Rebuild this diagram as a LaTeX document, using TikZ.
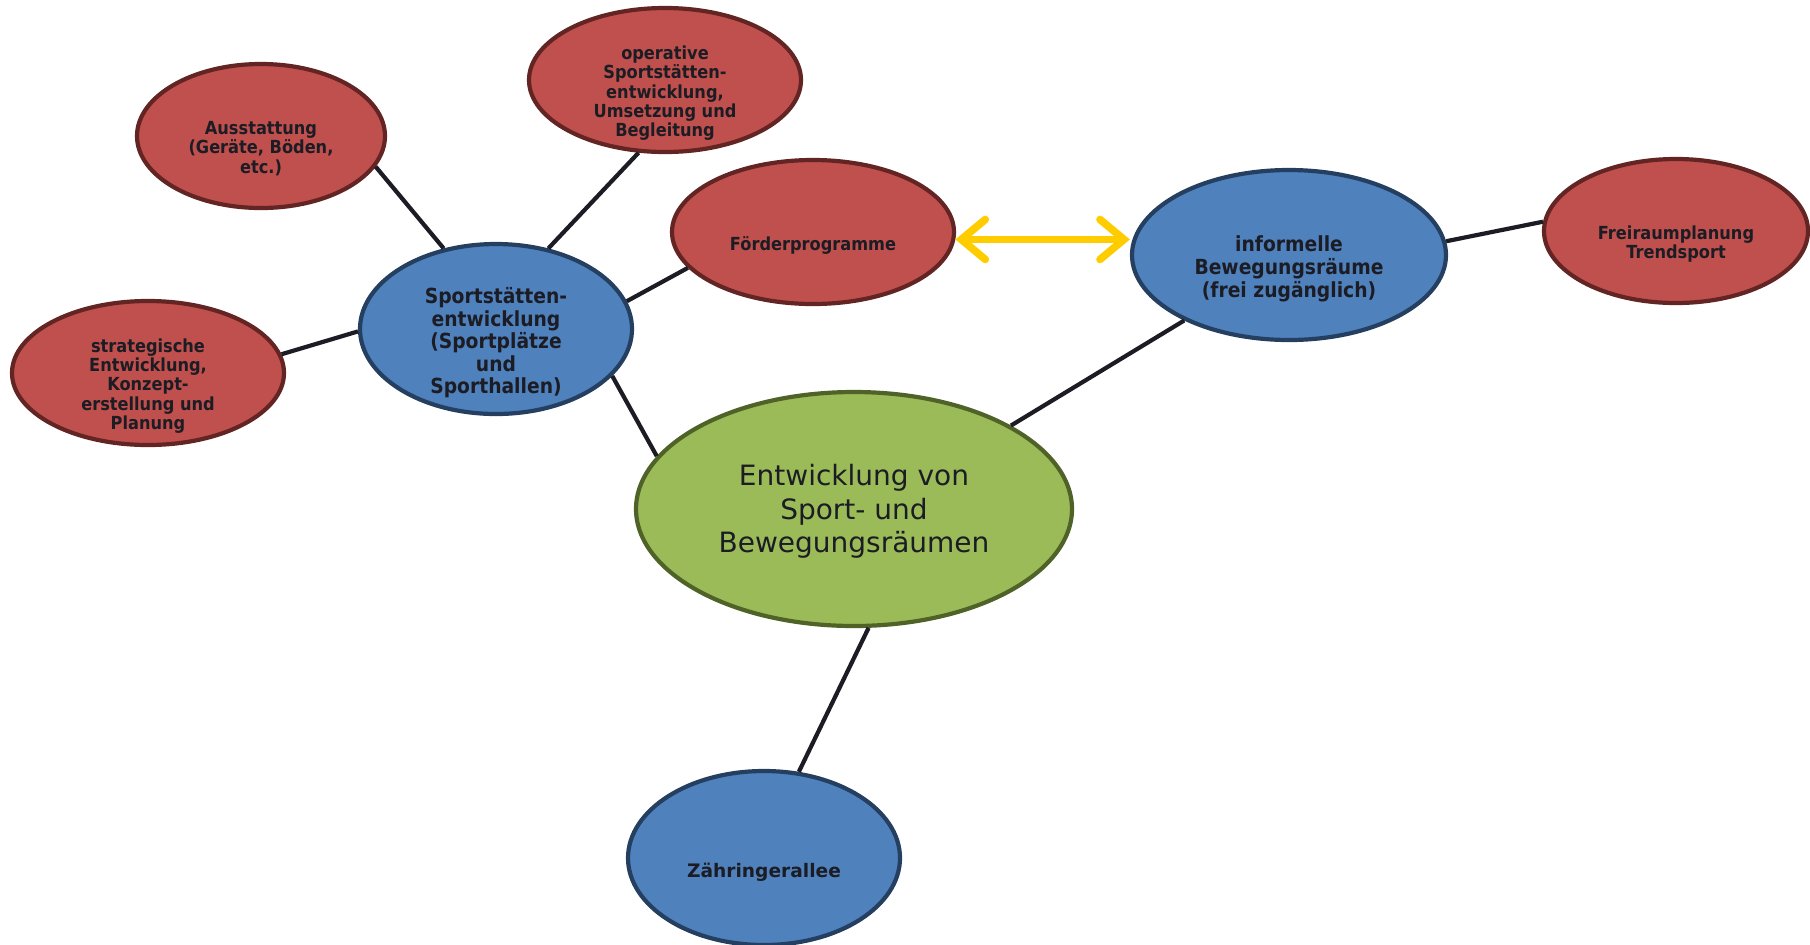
\documentclass[tikz,border=0pt]{standalone}
\usepackage{fontspec}
\setmainfont{DejaVu Sans}
\newfontfamily\narrowfont{DejaVu Sans}[FakeStretch=0.9]
\usetikzlibrary{shapes, arrows.meta}
\definecolor{redfill}{HTML}{C0504D}
\definecolor{redline}{HTML}{632523}
\definecolor{bluefill}{HTML}{4F81BD}
\definecolor{blueline}{HTML}{243F60}
\definecolor{greenfill}{HTML}{9BBB59}
\definecolor{greenline}{HTML}{4F6228}
\definecolor{ink}{HTML}{1C1C24}
\definecolor{gold}{HTML}{FFCC00}
\newcommand{\low}[2][-7pt]{\raisebox{#1}[\height][\depth]{\begin{tabular}{@{}c@{}}#2\end{tabular}}}

\begin{document}
\begin{tikzpicture}[x=0.5pt,y=-0.5pt,
  bubble/.style={ellipse,draw,line width=2.1pt,inner sep=0pt,text=ink,align=center},
  redball/.style={bubble,fill=redfill,draw=redline,font=\narrowfont\bfseries\fontsize{9}{9.5}\selectfont},
  blueball/.style={bubble,fill=bluefill,draw=blueline,font=\narrowfont\bfseries\fontsize{10.4}{11.1}\selectfont},
  greenball/.style={bubble,fill=greenfill,draw=greenline,font=\fontsize{14}{16.6}\selectfont},
  link/.style={draw=ink,line width=2.1pt}]
\useasboundingbox (0,0) rectangle (1810,944);

\node[redball,minimum width=124pt,minimum height=72pt] (aus) at (261,136) {\low{Ausstattung\\(Geräte, Böden,\\etc.)}};
\node[redball,minimum width=136pt,minimum height=72pt] (oper) at (665,80) {\low{operative\\Sportstätten-\\entwicklung,\\Umsetzung und\\Begleitung}};
\node[redball,minimum width=141pt,minimum height=72pt] (foerd) at (813,232) {\low{Förderprogramme}};
\node[blueball,minimum width=136pt,minimum height=85pt] (sport) at (496,329) {\low[-7.5pt]{Sportstätten-\\entwicklung\\(Sportplätze\\und\\Sporthallen)}};
\node[redball,minimum width=136pt,minimum height=72pt] (strat) at (148,373) {\low{strategische\\Entwicklung,\\Konzept-\\erstellung und\\Planung}};
\node[greenball,minimum width=218pt,minimum height=117pt] (main) at (854,509) {\low[-1.7pt]{Entwicklung von\\Sport- und\\Bewegungsräumen}};
\node[blueball,minimum width=157pt,minimum height=85pt] (inform) at (1289,255) {\low[-7.5pt]{informelle\\Bewegungsräume\\(frei zugänglich)}};
\node[redball,minimum width=132pt,minimum height=72pt] (frei) at (1676,231) {\low{Freiraumplanung\\Trendsport}};
\node[blueball,minimum width=136pt,minimum height=87pt,font=\bfseries\fontsize{9.3}{10}\selectfont] (zaehr) at (764,858) {\low[-7.5pt]{Zähringerallee}};

\path[link] (aus.-15) edge (sport.123)
	(oper.-110) edge (sport.57)
	(foerd.196) edge (sport.12)
	(strat.8) edge (sport.181)
	(sport.-22) edge (main.165)
	(main.28) edge (inform.212)
	(inform.5) edge (frei.176)
	(main.-83) edge (zaehr.68)
;
\draw[gold,line width=3.8pt,{Straight Barb[length=12pt,width=20pt,line cap=round]}-{Straight Barb[length=12pt,width=20pt,line cap=round]}] (foerd.-3) -- (foerd.-3 -| inform.west);
\end{tikzpicture}
\end{document}
